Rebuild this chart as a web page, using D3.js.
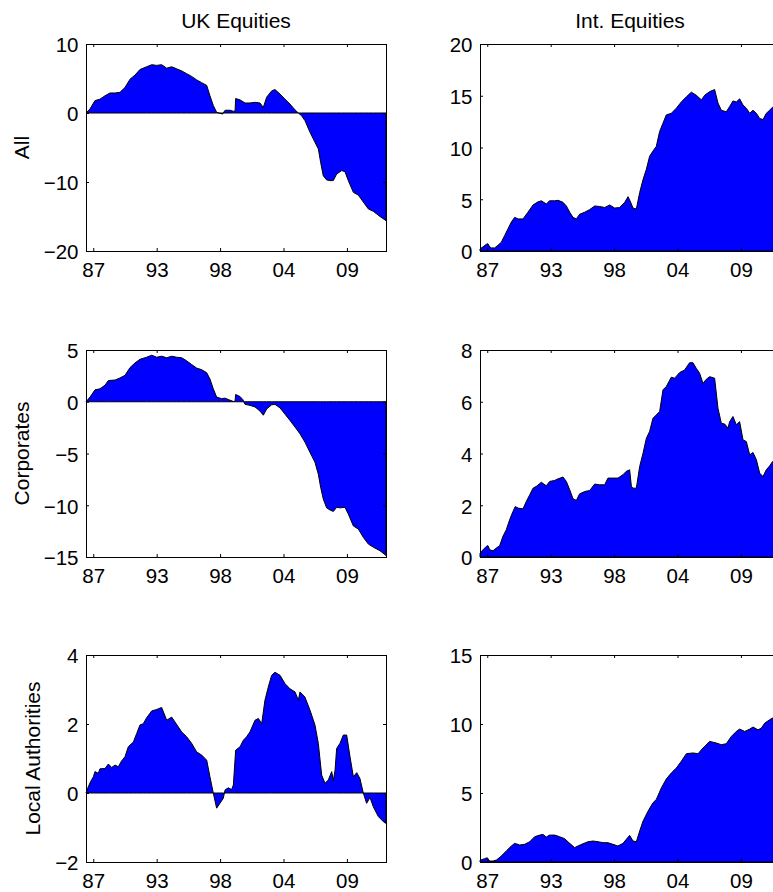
<!DOCTYPE html>
<html>
<head>
<meta charset="utf-8">
<script src="https://cdn.jsdelivr.net/npm/d3@7"></script>
<style>
  body { margin: 0; background: #fff; }
  svg { display: block; font-family: 'Liberation Sans', Arial, Helvetica, sans-serif; }
</style>
</head>
<body>
<svg id="chart" width="773" height="892"></svg>
<script>
'use strict'

// x axis: ticks every 5.5 years, labelled with two digit years
const xDomain = [1986.37, 2012.39]
const xTicks = [1987, 1992.5, 1998, 2003.5, 2009]
const xTickLabels = ['87', '93', '98', '04', '09']

const columnTitles = ['UK Equities', 'Int. Equities']
const rowLabels = ['All', 'Corporates', 'Local Authorities']

// [year, value]
const ukAll = [
  [1986.37, 0], [1986.72, 0.6], [1987.15, 1.8], [1987.58, 2.0], [1988.02, 2.5], [1988.45, 2.9],
  [1988.89, 2.9], [1989.32, 3.0], [1989.75, 3.7], [1990.19, 4.9], [1990.62, 5.5], [1991.05, 6.3],
  [1991.63, 6.7], [1992.07, 7.0], [1992.5, 6.9], [1992.93, 7.0], [1993.37, 6.5], [1993.8, 6.7],
  [1994.23, 6.4], [1994.67, 6.1], [1995.1, 5.7], [1995.53, 5.3], [1995.97, 4.8], [1996.4, 4.4],
  [1996.84, 4.0], [1997.12, 2.5], [1997.41, 1.1], [1997.7, 0.1], [1997.99, -0.05], [1998.22, -0.15],
  [1998.43, 0.4], [1998.86, 0.4], [1999.15, 0.25], [1999.3, 0.3], [1999.35, 2.1], [1999.73, 1.9],
  [2000.16, 1.45], [2000.59, 1.45], [2001.03, 1.55], [2001.46, 1.45], [2001.75, 0.8], [2002.04, 2.3],
  [2002.47, 3.2], [2002.76, 3.4], [2003.2, 2.75], [2003.63, 2.0], [2004.06, 1.3], [2004.5, 0.45],
  [2004.79, 0], [2005.07, -0.4], [2005.36, -1.1], [2005.8, -2.8], [2006.23, -4.25], [2006.52, -5.2],
  [2006.72, -7.15], [2006.95, -9.1], [2007.24, -9.7], [2007.53, -9.8], [2007.82, -9.8], [2008.11, -8.85],
  [2008.54, -8.35], [2008.83, -8.5], [2009.12, -9.8], [2009.56, -11.5], [2009.99, -11.9], [2010.42, -12.9],
  [2010.86, -13.9], [2011.29, -14.25], [2011.87, -15.0], [2012.39, -15.6]
]

const ukCorp = [
  [1986.37, 0], [1986.72, 0.45], [1987.15, 1.15], [1987.58, 1.25], [1988.02, 1.6], [1988.31, 2.05],
  [1988.89, 2.1], [1989.32, 2.3], [1989.75, 2.55], [1990.19, 3.3], [1990.62, 3.75], [1991.05, 4.1],
  [1991.63, 4.3], [1992.07, 4.5], [1992.5, 4.3], [1992.93, 4.4], [1993.37, 4.25], [1993.8, 4.4],
  [1994.23, 4.3], [1994.67, 4.25], [1995.1, 3.95], [1995.53, 3.6], [1995.97, 3.25], [1996.4, 3.1],
  [1996.84, 2.8], [1997.12, 2.2], [1997.41, 1.25], [1997.7, 0.45], [1998.13, 0.3], [1998.43, 0.35],
  [1998.86, 0.15], [1999.15, 0.03], [1999.3, 0.05], [1999.35, 0.7], [1999.73, 0.5], [1999.98, 0.2],
  [2000.16, -0.25], [2000.59, -0.35], [2001.03, -0.5], [2001.46, -0.9], [2001.75, -1.3], [2002.04, -0.7],
  [2002.47, -0.3], [2002.76, -0.25], [2003.2, -0.6], [2003.63, -1.2], [2004.06, -1.8], [2004.5, -2.45],
  [2004.93, -3.1], [2005.36, -3.9], [2005.8, -4.9], [2006.23, -5.85], [2006.52, -7.0], [2006.72, -8.25],
  [2006.95, -9.4], [2007.24, -10.25], [2007.53, -10.45], [2007.82, -10.6], [2008.11, -10.2], [2008.4, -10.25],
  [2008.83, -10.2], [2009.12, -10.85], [2009.56, -12.0], [2009.99, -12.3], [2010.42, -13.1], [2010.86, -13.75],
  [2011.29, -14.05], [2011.87, -14.4], [2012.39, -14.85]
]

const ukLocal = [
  [1986.37, 0], [1986.57, 0.18], [1986.77, 0.33], [1987.01, 0.47], [1987.15, 0.62], [1987.44, 0.57],
  [1987.58, 0.7], [1988.02, 0.71], [1988.31, 0.84], [1988.6, 0.74], [1988.89, 0.81], [1989.17, 0.76],
  [1989.46, 0.93], [1989.75, 1.05], [1990.04, 1.34], [1990.48, 1.48], [1990.76, 1.72], [1991.05, 1.97],
  [1991.34, 2.01], [1991.63, 2.18], [1992.07, 2.38], [1992.5, 2.42], [1992.93, 2.48], [1993.37, 2.11],
  [1993.8, 2.2], [1994.67, 1.77], [1995.1, 1.63], [1995.53, 1.44], [1995.97, 1.19], [1996.4, 1.1],
  [1996.84, 0.95], [1997.12, 0.47], [1997.41, 0], [1997.7, -0.44], [1997.99, -0.3], [1998.28, -0.15],
  [1998.43, 0.09], [1998.71, 0.15], [1999.0, 0.1], [1999.15, 0.23], [1999.35, 1.24], [1999.73, 1.34],
  [2000.02, 1.53], [2000.3, 1.63], [2000.59, 1.77], [2001.03, 2.11], [2001.32, 2.16], [2001.61, 2.01],
  [2001.89, 2.69], [2002.18, 3.07], [2002.47, 3.41], [2002.76, 3.5], [2003.2, 3.41], [2003.63, 3.17],
  [2004.06, 3.02], [2004.5, 2.93], [2004.79, 2.69], [2004.93, 2.93], [2005.36, 2.78], [2005.8, 2.4],
  [2006.23, 1.97], [2006.52, 1.44], [2006.81, 0.52], [2007.1, 0.28], [2007.39, 0.38], [2007.68, 0.62],
  [2007.82, 0.36], [2007.97, 0.66], [2008.11, 1.29], [2008.4, 1.44], [2008.69, 1.68], [2008.98, 1.68],
  [2009.27, 1.05], [2009.56, 0.47], [2009.85, 0.59], [2010.13, 0.42], [2010.42, 0], [2010.71, -0.3],
  [2011.0, -0.13], [2011.29, -0.4], [2011.72, -0.68], [2012.16, -0.83], [2012.39, -0.88]
]

const intAll = [
  [1986.37, 0.2], [1986.63, 0.4], [1986.92, 0.65], [1987.06, 0.7], [1987.21, 0.4], [1987.35, 0.3],
  [1987.64, 0.3], [1987.93, 0.55], [1988.22, 0.85], [1988.51, 1.5], [1988.8, 2.15], [1989.09, 2.8],
  [1989.38, 3.25], [1989.67, 3.1], [1990.1, 3.1], [1990.53, 3.75], [1990.97, 4.45], [1991.4, 4.75],
  [1991.69, 4.85], [1992.12, 4.55], [1992.41, 4.85], [1992.85, 4.85], [1993.14, 4.9], [1993.57, 4.7],
  [1993.86, 4.35], [1994.15, 3.75], [1994.44, 3.25], [1994.73, 3.1], [1995.01, 3.55], [1995.45, 3.75],
  [1995.88, 4.0], [1996.32, 4.35], [1996.75, 4.3], [1997.18, 4.2], [1997.62, 4.45], [1998.05, 4.15],
  [1998.48, 4.2], [1998.92, 4.7], [1999.21, 5.25], [1999.44, 4.7], [1999.64, 4.15], [1999.93, 4.05],
  [2000.22, 5.65], [2000.51, 6.9], [2000.8, 7.9], [2001.08, 9.15], [2001.37, 9.65], [2001.66, 10.1],
  [2001.95, 11.55], [2002.24, 12.35], [2002.53, 13.15], [2002.96, 13.3], [2003.4, 13.8], [2003.83, 14.4],
  [2004.27, 14.9], [2004.7, 15.35], [2005.13, 15.05], [2005.57, 14.6], [2005.86, 15.05], [2006.29, 15.4],
  [2006.72, 15.6], [2007.01, 14.3], [2007.3, 13.6], [2007.73, 13.45], [2008.02, 13.95], [2008.31, 14.5],
  [2008.6, 14.4], [2008.89, 14.7], [2009.18, 14.1], [2009.47, 13.8], [2009.76, 13.3], [2010.05, 13.6],
  [2010.34, 13.3], [2010.63, 12.8], [2010.92, 12.7], [2011.2, 13.3], [2011.49, 13.6], [2011.75, 13.9],
  [2012.39, 14.3]
]

const intCorp = [
  [1986.37, 0.13], [1986.63, 0.28], [1986.92, 0.41], [1987.06, 0.44], [1987.21, 0.28], [1987.5, 0.24],
  [1987.79, 0.35], [1988.08, 0.44], [1988.36, 0.8], [1988.65, 1.05], [1988.94, 1.44], [1989.23, 1.76],
  [1989.43, 1.95], [1989.67, 1.89], [1990.1, 1.86], [1990.39, 2.15], [1990.68, 2.4], [1990.97, 2.66],
  [1991.26, 2.73], [1991.69, 2.89], [1992.12, 2.75], [1992.41, 2.92], [1992.85, 2.96], [1993.14, 3.02],
  [1993.57, 3.09], [1993.86, 2.92], [1994.15, 2.6], [1994.44, 2.25], [1994.73, 2.19], [1995.01, 2.44],
  [1995.45, 2.53], [1995.88, 2.57], [1996.32, 2.82], [1996.75, 2.79], [1997.18, 2.79], [1997.47, 3.05],
  [1997.9, 3.05], [1998.34, 3.05], [1998.77, 3.18], [1999.06, 3.31], [1999.35, 3.37], [1999.5, 2.73],
  [1999.64, 2.66], [1999.93, 2.66], [2000.22, 3.5], [2000.51, 4.01], [2000.8, 4.59], [2001.08, 4.85],
  [2001.37, 5.36], [2001.66, 5.49], [2001.95, 5.62], [2002.24, 6.46], [2002.53, 6.59], [2002.96, 6.95],
  [2003.25, 6.91], [2003.69, 7.13], [2004.12, 7.23], [2004.55, 7.51], [2004.84, 7.51], [2005.13, 7.29],
  [2005.42, 7.1], [2005.71, 6.71], [2006.0, 6.87], [2006.29, 6.97], [2006.72, 6.91], [2007.01, 5.75],
  [2007.3, 5.17], [2007.59, 5.14], [2007.88, 4.98], [2008.02, 5.23], [2008.31, 5.43], [2008.6, 5.11],
  [2008.89, 5.23], [2009.18, 4.53], [2009.47, 4.46], [2009.76, 3.95], [2010.05, 4.04], [2010.34, 3.76],
  [2010.63, 3.24], [2010.92, 3.11], [2011.2, 3.37], [2011.49, 3.52], [2011.75, 3.69], [2012.39, 3.9]
]

const intLocal = [
  [1986.37, 0.12], [1986.77, 0.24], [1987.0, 0.31], [1987.21, 0.07], [1987.5, 0.07], [1987.79, 0.14],
  [1988.22, 0.43], [1988.65, 0.8], [1989.09, 1.16], [1989.38, 1.35], [1989.81, 1.23], [1990.24, 1.28],
  [1990.68, 1.47], [1991.11, 1.83], [1991.55, 1.95], [1991.83, 2.0], [1992.12, 1.81], [1992.41, 1.95],
  [1992.85, 1.95], [1993.28, 1.83], [1993.71, 1.69], [1994.15, 1.35], [1994.58, 1.04], [1994.87, 1.16],
  [1995.3, 1.32], [1995.74, 1.47], [1996.17, 1.52], [1996.61, 1.47], [1997.04, 1.4], [1997.47, 1.4],
  [1997.9, 1.28], [1998.34, 1.16], [1998.77, 1.35], [1999.06, 1.64], [1999.35, 1.93], [1999.64, 1.52],
  [1999.93, 1.47], [2000.22, 2.24], [2000.51, 2.96], [2000.94, 3.68], [2001.37, 4.29], [2001.66, 4.53],
  [2002.1, 5.37], [2002.53, 6.02], [2002.96, 6.45], [2003.4, 6.81], [2003.83, 7.3], [2004.27, 7.85],
  [2004.84, 7.9], [2005.28, 7.85], [2005.71, 8.26], [2006.29, 8.74], [2006.87, 8.62], [2007.3, 8.5],
  [2007.73, 8.57], [2008.17, 9.1], [2008.6, 9.46], [2008.89, 9.63], [2009.33, 9.46], [2009.76, 9.63],
  [2010.05, 9.78], [2010.48, 9.58], [2010.77, 9.7], [2011.06, 10.06], [2011.49, 10.31], [2011.75, 10.43],
  [2012.39, 10.7]
]

const panels = [
  { row: 0, col: 0, data: ukAll, yDomain: [-20, 10], yTicks: [-20, -10, 0, 10] },
  { row: 0, col: 1, data: intAll, yDomain: [0, 20], yTicks: [0, 5, 10, 15, 20] },
  { row: 1, col: 0, data: ukCorp, yDomain: [-15, 5], yTicks: [-15, -10, -5, 0, 5] },
  { row: 1, col: 1, data: intCorp, yDomain: [0, 8], yTicks: [0, 2, 4, 6, 8] },
  { row: 2, col: 0, data: ukLocal, yDomain: [-2, 4], yTicks: [-2, 0, 2, 4] },
  { row: 2, col: 1, data: intLocal, yDomain: [0, 15], yTicks: [0, 5, 10, 15] }
]

// subplot geometry
const PLOT_W = 300
const PLOT_H = 207
const colLeft = [86, 480]
const rowTop = [44, 350, 655]
const TICK_FONT = '20.5px'
const LABEL_FONT = '21px'

const svg = d3.select('#chart')
const fmt = d => d < 0 ? '\u2212' + Math.abs(d) : String(d)

const styleAxis = (sel) => {
  sel.select('.domain').remove()
  sel.attr('font-family', null).attr('font-size', null)
  sel.selectAll('line').attr('stroke', '#000')
  sel.selectAll('text').attr('fill', '#000').style('font-size', TICK_FONT)
}

panels.forEach(p => {
  const left = colLeft[p.col]
  const top = rowTop[p.row]
  const x = d3.scaleLinear().domain(xDomain).range([left, left + PLOT_W])
  const y = d3.scaleLinear().domain(p.yDomain).range([top + PLOT_H, top])
  const g = svg.append('g').attr('class', 'panel')

  // area filled against zero, outlined like a matlab patch
  const area = d3.area()
    .x(d => x(d[0]))
    .y0(y(0))
    .y1(d => y(d[1]))
  g.append('path')
    .datum(p.data)
    .attr('d', area)
    .attr('fill', '#0000ff')
    .attr('stroke', '#000')
    .attr('stroke-width', 1)
    .attr('stroke-linejoin', 'round')

  // ticks on all four sides, pointing inwards
  g.append('g')
    .attr('transform', `translate(0,${top + PLOT_H})`)
    .call(d3.axisBottom(x).tickValues(xTicks).tickFormat((d, i) => xTickLabels[i])
      .tickSizeInner(-3).tickSizeOuter(0).tickPadding(11))
    .call(styleAxis)
  g.append('g')
    .attr('transform', `translate(0,${top})`)
    .call(d3.axisTop(x).tickValues(xTicks).tickFormat('').tickSizeInner(-3).tickSizeOuter(0))
    .call(styleAxis)
  const yAxis = g.append('g')
    .attr('transform', `translate(${left},0)`)
    .call(d3.axisLeft(y).tickValues(p.yTicks).tickFormat(fmt)
      .tickSizeInner(-3).tickSizeOuter(0).tickPadding(7.5))
    .call(styleAxis)
  yAxis.selectAll('text').attr('dy', '0.38em')
  g.append('g')
    .attr('transform', `translate(${left + PLOT_W},0)`)
    .call(d3.axisRight(y).tickValues(p.yTicks).tickFormat('').tickSizeInner(-3).tickSizeOuter(0))
    .call(styleAxis)

  // axes box
  g.append('rect')
    .attr('x', left + 0.5)
    .attr('y', top + 0.5)
    .attr('width', PLOT_W)
    .attr('height', PLOT_H)
    .attr('fill', 'none')
    .attr('stroke', '#000')
    .attr('stroke-width', 1)

  if (p.row === 0) {
    g.append('text')
      .attr('x', left + PLOT_W / 2)
      .attr('y', top - 16.5)
      .attr('text-anchor', 'middle')
      .style('font-size', LABEL_FONT)
      .text(columnTitles[p.col])
  }

  if (p.col === 0) {
    // ylabel sits just left of the widest tick label
    const minX = left + d3.min(yAxis.selectAll('text').nodes(), n => n.getBBox().x)
    const lx = minX - 15
    const ly = top + PLOT_H / 2
    g.append('text')
      .attr('transform', `translate(${lx},${ly}) rotate(-90)`)
      .attr('text-anchor', 'middle')
      .style('font-size', LABEL_FONT)
      .text(rowLabels[p.row])
  }
})
</script>
</body>
</html>
